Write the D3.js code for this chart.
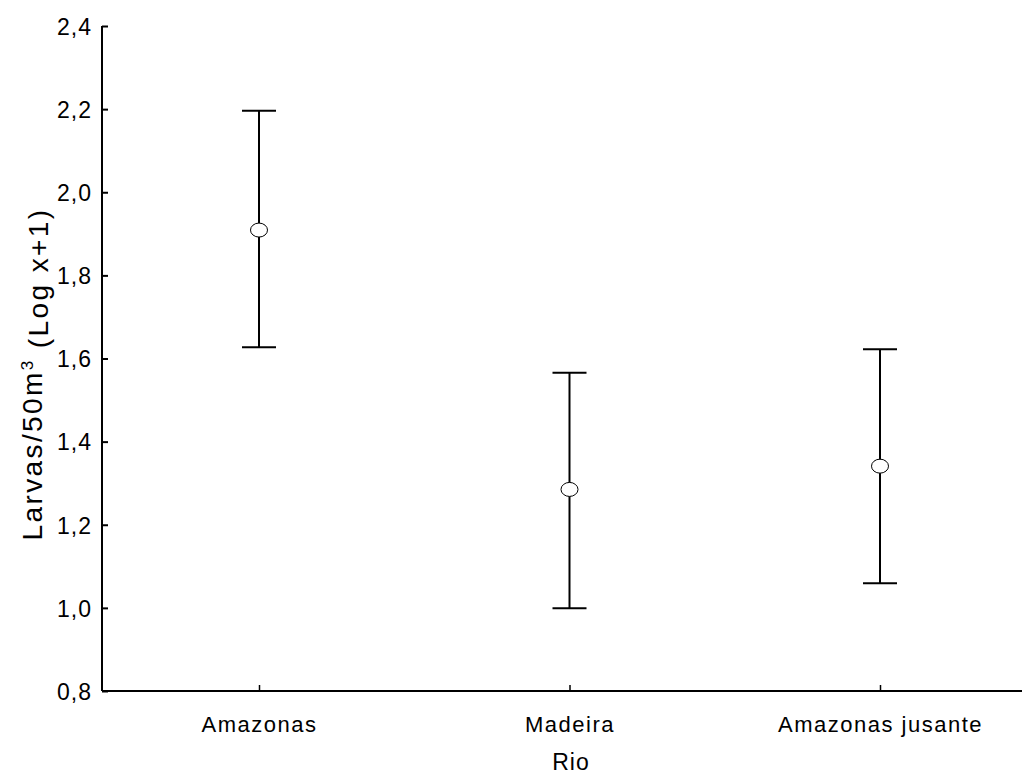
<!DOCTYPE html>
<html>
<head>
<meta charset="utf-8">
<script src="https://cdn.jsdelivr.net/npm/d3@7"></script>
<style>
  html, body { margin: 0; padding: 0; background: #fff; }
  text { font-family: "Liberation Sans", Arial, sans-serif; fill: #000; }
</style>
</head>
<body>
<svg id="chart" width="1024" height="776"></svg>
<script>
const categories = ["Amazonas", "Madeira", "Amazonas jusante"];
const means = [1.909, 1.285, 1.341];
const upper = [2.196, 1.566, 1.622];
const lower = [1.627, 0.999, 1.059];
const yTicks = [0.8, 1.0, 1.2, 1.4, 1.6, 1.8, 2.0, 2.2, 2.4];
const xTitle = "Rio";

const svg = d3.select("#chart");
const mLeft = 102, mRight = 1022, mTop = 26, mBottom = 691;

const y = d3.scaleLinear().domain([0.8, 2.4]).range([mBottom, mTop]);
const x = d3.scalePoint().domain(categories).range([259, 880]);

// Y axis
const yAxis = d3.axisLeft(y).tickValues(yTicks).tickSize(-6).tickPadding(10)
  .tickFormat(d => d3.format(".1f")(d).replace(".", ","));
const gy = svg.append("g").attr("transform", `translate(${mLeft},0)`).call(yAxis);
gy.select(".domain").remove();
gy.append("line").attr("x1", 0).attr("x2", 0).attr("y1", mTop).attr("y2", mBottom)
  .attr("stroke", "#000").attr("stroke-width", 2);
gy.selectAll(".tick line").attr("stroke", "#000").attr("stroke-width", 2);
gy.selectAll(".tick text").style("font-size", "23px").style("letter-spacing", "1px").attr("dy", "0.36em");

// X axis
const xAxis = d3.axisBottom(x).tickSize(-6).tickPadding(0);
const gx = svg.append("g").attr("transform", `translate(0,${mBottom})`).call(xAxis);
gx.select(".domain").remove();
gx.append("line").attr("x1", mLeft).attr("x2", mRight).attr("y1", 0).attr("y2", 0)
  .attr("stroke", "#000").attr("stroke-width", 2);
gx.selectAll(".tick line").attr("stroke", "#000").attr("stroke-width", 1.5);
gx.selectAll(".tick text").style("font-size", "22px").style("letter-spacing", "1.5px")
  .attr("dy", null).attr("y", 41);

// Titles
svg.append("text").attr("x", 571).attr("y", 770).attr("text-anchor", "middle")
  .style("font-size", "23px").style("letter-spacing", "1px").text(xTitle);

const yt = svg.append("text")
  .attr("transform", `translate(42,374) rotate(-90)`)
  .attr("text-anchor", "middle").style("font-size", "28px").style("letter-spacing", "2.4px");
yt.append("tspan").text("Larvas/50m");
yt.append("tspan").attr("dy", "-0.55em").style("font-size", "17px").text("3");
yt.append("tspan").attr("dy", "0.55em").text(" (Log x+1)");

// Error bars
const data = categories.map((c, i) => ({ c, m: means[i], hi: upper[i], lo: lower[i] }));
const capW = 17;
const g = svg.append("g");
g.selectAll("line.v").data(data).join("line").attr("class", "v")
  .attr("x1", d => x(d.c)).attr("x2", d => x(d.c))
  .attr("y1", d => y(d.hi)).attr("y2", d => y(d.lo))
  .attr("stroke", "#000").attr("stroke-width", 2);
g.selectAll("line.capH").data(data).join("line").attr("class", "capH")
  .attr("x1", d => x(d.c) - capW).attr("x2", d => x(d.c) + capW)
  .attr("y1", d => y(d.hi)).attr("y2", d => y(d.hi))
  .attr("stroke", "#000").attr("stroke-width", 2);
g.selectAll("line.capL").data(data).join("line").attr("class", "capL")
  .attr("x1", d => x(d.c) - capW).attr("x2", d => x(d.c) + capW)
  .attr("y1", d => y(d.lo)).attr("y2", d => y(d.lo))
  .attr("stroke", "#000").attr("stroke-width", 2);
g.selectAll("ellipse").data(data).join("ellipse")
  .attr("cx", d => x(d.c)).attr("cy", d => y(d.m))
  .attr("rx", 8.5).attr("ry", 7)
  .attr("fill", "#fff").attr("stroke", "#000").attr("stroke-width", 1);
</script>
</body>
</html>
